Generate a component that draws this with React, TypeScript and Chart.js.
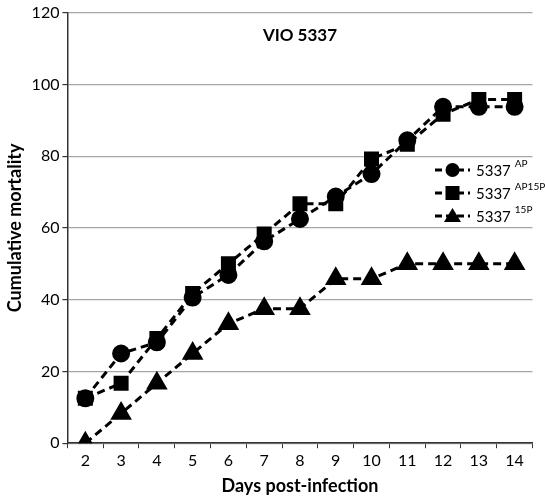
import React, { useEffect, useRef } from "react";
import { Chart, registerables } from "chart.js";

Chart.register(...registerables);

const days = ["2", "3", "4", "5", "6", "7", "8", "9", "10", "11", "12", "13", "14"];
const apValues = [12.5, 25, 28.1, 40.6, 46.9, 56.25, 62.5, 68.75, 75, 84.4, 93.75, 93.75, 93.75];
const ap15pValues = [12.5, 16.7, 29.2, 41.7, 50, 58.3, 66.7, 66.7, 79.2, 83.3, 91.7, 95.8, 95.8];
const p15Values = [0, 8.3, 16.7, 25, 33.3, 37.5, 37.5, 45.8, 45.8, 50, 50, 50, 50];
const legendItems = [
  { base: "5337", sup: "AP", marker: "circle" },
  { base: "5337", sup: "AP15P", marker: "rect" },
  { base: "5337", sup: "15P", marker: "triangle" },
];
const chartTitle = "VIO 5337";
const xTitle = "Days post-infection";
const yTitle = "Cumulative mortality";

const FONT = "Lato, 'Open Sans', sans-serif";

function drawMarker(ctx: CanvasRenderingContext2D, kind: string, x: number, y: number) {
  ctx.beginPath();
  if (kind === "circle") {
    ctx.arc(x, y, 7, 0, Math.PI * 2);
  } else if (kind === "rect") {
    ctx.rect(x - 7, y - 7, 14, 14);
  } else {
    ctx.moveTo(x, y - 8);
    ctx.lineTo(x + 8.5, y + 6);
    ctx.lineTo(x - 8.5, y + 6);
    ctx.closePath();
  }
  ctx.fill();
}

const overlayPlugin = {
  id: "overlay",
  afterDatasetsDraw(chart: any) {
    const ctx: CanvasRenderingContext2D = chart.ctx;
    const area = chart.chartArea;
    ctx.save();
    ctx.fillStyle = "#000";
    ctx.font = `bold 17px ${FONT}`;
    ctx.textAlign = "center";
    ctx.textBaseline = "middle";
    ctx.fillText(chartTitle, (area.left + area.right) / 2, 36);
    const lx = 435;
    const ys = [170, 193, 216];
    legendItems.forEach((it, i) => {
      const y = ys[i];
      ctx.strokeStyle = "#000";
      ctx.lineWidth = 3;
      ctx.setLineDash([7, 4]);
      ctx.beginPath();
      ctx.moveTo(lx, y);
      ctx.lineTo(lx + 35, y);
      ctx.stroke();
      ctx.setLineDash([]);
      ctx.fillStyle = "#000";
      drawMarker(ctx, it.marker, lx + 17.5, y);
      ctx.textAlign = "left";
      ctx.textBaseline = "middle";
      ctx.font = `15px ${FONT}`;
      const tx = lx + 41;
      ctx.fillText(it.base, tx, y + 1);
      const w = ctx.measureText(it.base).width;
      ctx.font = `10px ${FONT}`;
      ctx.fillText(it.sup, tx + w + 4, y - 6);
    });
    ctx.restore();
  },
};

export default function App() {
  const ref = useRef<HTMLCanvasElement | null>(null);
  useEffect(() => {
    document.body.style.margin = "0";
    if (!ref.current) return;
    const common = {
      borderColor: "#000",
      backgroundColor: "#000",
      pointBackgroundColor: "#000",
      pointBorderColor: "#000",
      borderWidth: 3,
      borderDash: [8, 5],
      tension: 0,
    };
    const chart = new Chart(ref.current, {
      type: "line",
      data: {
        labels: days,
        datasets: [
          { ...common, label: "5337 AP", data: apValues, pointStyle: "circle", pointRadius: 7.5, order: 1 },
          { ...common, label: "5337 AP15P", data: ap15pValues, pointStyle: "rect", pointRadius: 8.5, order: 0 },
          { ...common, label: "5337 15P", data: p15Values, pointStyle: "triangle", pointRadius: 9.5, order: 2 },
        ],
      },
      options: {
        responsive: false,
        animation: false,
        layout: { padding: { top: 0, right: 7, left: 4, bottom: 3 } },
        plugins: { legend: { display: false }, tooltip: { enabled: false }, title: { display: false } },
        scales: {
          x: {
            offset: true,
            grid: {
              offset: true,
              drawOnChartArea: false,
              drawTicks: true,
              tickLength: 5,
              tickColor: "#333",
            },
            border: { color: "#333", width: 1.5 },
            ticks: { color: "#000", font: { size: 16, family: FONT }, padding: 3 },
            title: {
              display: true,
              text: xTitle,
              color: "#000",
              font: { size: 18, weight: "bold", family: FONT },
              padding: { top: 2, bottom: 0 },
            },
          },
          y: {
            min: 0,
            max: 120,
            ticks: { stepSize: 20, color: "#000", font: { size: 16, family: FONT }, padding: 3 },
            grid: { color: "#a6a6a6", lineWidth: 1.2, tickLength: 5, tickColor: "#333" },
            border: { color: "#333", width: 1.5 },
            title: {
              display: true,
              text: yTitle,
              color: "#000",
              font: { size: 18, weight: "bold", family: FONT },
              padding: { top: 0, bottom: 3 },
            },
          },
        },
      },
      plugins: [overlayPlugin],
    });
    return () => chart.destroy();
  }, []);
  return (
    <div style={{ width: 545, height: 500 }}>
      <canvas ref={ref} width={545} height={500} />
    </div>
  );
}
